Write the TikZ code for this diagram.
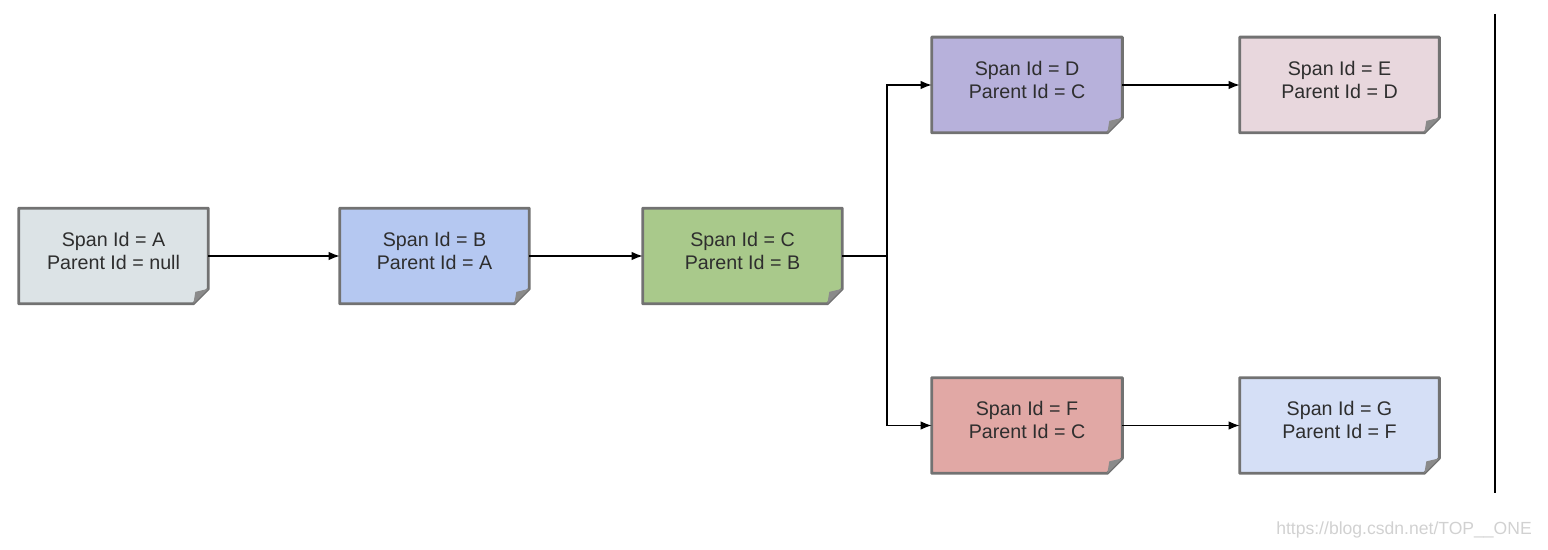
\documentclass[tikz,border=0pt]{standalone}
\usepackage{fontspec}
\setmainfont{Liberation Sans}
\usetikzlibrary{arrows.meta,calc}
\definecolor{edgeGray}{HTML}{727272}
\definecolor{foldGray}{HTML}{8A8A8A}
\definecolor{txtGray}{HTML}{2E2E2E}
\definecolor{spanA}{HTML}{DCE3E6}
\definecolor{spanB}{HTML}{B5C8F1}
\definecolor{spanC}{HTML}{A9C98B}
\definecolor{spanD}{HTML}{B7B1DB}
\definecolor{spanE}{HTML}{E8D7DD}
\definecolor{spanF}{HTML}{E1A8A5}
\definecolor{spanG}{HTML}{D5DFF6}
\tikzset{
  spanbox/.style={minimum width=3.78cm,minimum height=1.9cm,inner sep=0pt,
    align=center,text=txtGray,text depth=0.22cm,
    font=\fontsize{11.2}{13.2}\selectfont},
  widebox/.style={spanbox,minimum width=3.98cm},
  link/.style={-{Latex[length=2.2mm,width=1.7mm]},line width=0.8pt},
}
% note outline with the folded corner
\newcommand{\noteframe}[1]{%
  \fill[white] ($(#1.south east)+(-15,0)$) -- (#1.south east)
    -- ($(#1.south east)+(0,-15)$) -- cycle;
  \draw[edgeGray,line width=1.6pt,line join=round]
    (#1.north west) -- (#1.north east) -- ($(#1.south east)+(0,-15)$)
    -- ($(#1.south east)+(-15,0)$) -- (#1.south west) -- cycle;
  \fill[foldGray] ($(#1.south east)+(0,-15)$) -- ($(#1.south east)+(-15,0)$)
    -- ($(#1.south east)+(-13,-12)$) -- cycle;
}

\begin{document}
\begin{tikzpicture}[x=0.02cm,y=-0.02cm]
  \useasboundingbox (0,0) rectangle (1548,550);

  \node[spanbox,fill=spanA] (spanA) at (113.5,256)
    {Span Id = A\\Parent Id = null};
  \node[spanbox,fill=spanB] (spanB) at (434.5,256)
    {Span Id = B\\Parent Id = A};
  \node[widebox,fill=spanC] (spanC) at (742.5,256)
    {Span Id = C\\Parent Id = B};
  \node[spanbox,minimum width=3.8cm,fill=spanD] (spanD) at (1027,85)
    {Span Id = D\\Parent Id = C};
  \node[widebox,fill=spanE] (spanE) at (1339.5,85)
    {Span Id = E\\Parent Id = D};
  \node[spanbox,minimum width=3.8cm,fill=spanF] (spanF) at (1027,425.5)
    {Span Id = F\\Parent Id = C};
  \node[widebox,fill=spanG] (spanG) at (1339.5,425.5)
    {Span Id = G\\Parent Id = F};

  \noteframe{spanA}
  \noteframe{spanB}
  \noteframe{spanC}
  \noteframe{spanD}
  \noteframe{spanE}
  \noteframe{spanF}
  \noteframe{spanG}

  \coordinate (fork) at (887,256);
  \draw[link] (spanA) -- (spanB);
  \draw[link] (spanB) -- (spanC);
  \draw[line width=0.8pt] (spanC.east) -- (fork);
  \draw[link] (fork) |- (spanD.west);
  \draw[link] (fork) |- (spanF.west);
  \draw[link] (spanD) -- (spanE);
  \draw[link] (spanF) -- (spanG);

  \coordinate (barTop) at (1495,14);
  \coordinate (barEnd) at (1495,493);
  \draw[line width=1.1pt] (barTop) -- (barEnd);

  \node[anchor=east,text=black!18,font=\fontsize{10}{11}\selectfont]
    (mark) at (1538,530) {https://blog.csdn.net/TOP\_\_ONE};
\end{tikzpicture}
\end{document}
